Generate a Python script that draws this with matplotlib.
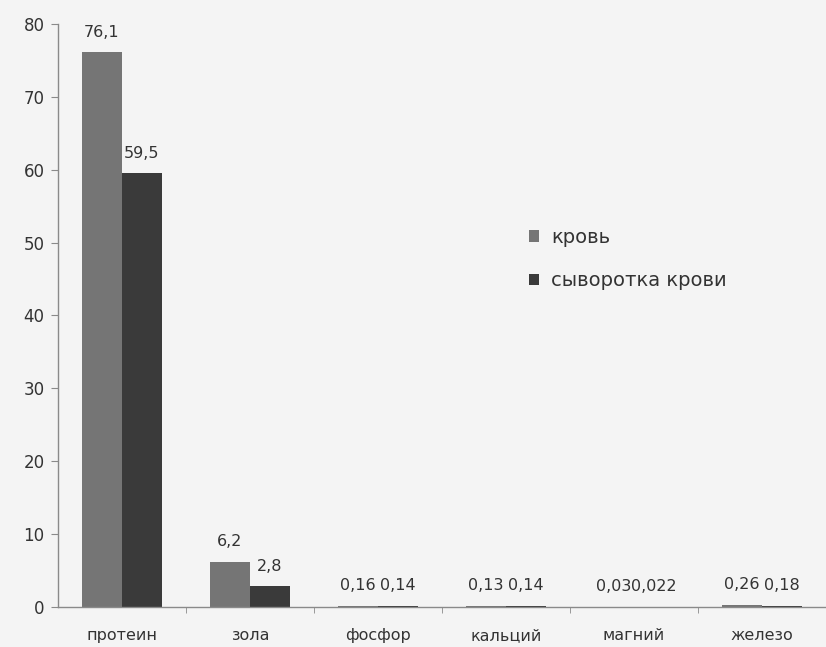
import numpy as np
import matplotlib.pyplot as plt

categories = ['протеин', 'зола', 'фосфор', 'кальций', 'магний', 'железо']
krov = [76.1, 6.2, 0.16, 0.13, 0.03, 0.26]
syvorotka = [59.5, 2.8, 0.14, 0.14, 0.022, 0.18]
krov_labels = ['76,1', '6,2', '0,16', '0,13', '0,03', '0,26']
syv_labels = ['59,5', '2,8', '0,14', '0,14', '0,022', '0,18']

plt.rcParams['font.family'] = ['DejaVu Sans']
fig = plt.figure(figsize=(8.26, 6.47), dpi=100, facecolor='#f4f4f4')
ax = fig.add_axes([0.070, 0.062, 0.930, 0.901])
ax.set_facecolor('#f4f4f4')

x = np.arange(len(categories))
w = 0.31
b1 = ax.bar(x - w / 2, krov, w, color='#757575', label='кровь')
b2 = ax.bar(x + w / 2, syvorotka, w, color='#3a3a3a', label='сыворотка крови')

# value labels above each bar
for bars, labs in ((b1, krov_labels), (b2, syv_labels)):
    for r, t in zip(bars, labs):
        ax.annotate(t, (r.get_x() + r.get_width() / 2, r.get_height()),
                    xytext=(0, 9), textcoords='offset points',
                    ha='center', va='bottom', fontsize=11.5, color='#333333')

ax.set_xlim(-0.5, len(categories) - 0.5)
ax.set_ylim(0, 80)
ax.set_yticks(range(0, 81, 10))
ax.set_xticks(x)
ax.set_xticklabels(categories)
ax.set_xticks(np.arange(0.5, len(categories) - 0.5, 1), minor=True)
ax.tick_params(axis='x', which='major', length=0, pad=15, labelsize=11.5, labelcolor='#333333')
ax.tick_params(axis='x', which='minor', length=4, direction='out', color='#8a8a8a')
ax.tick_params(axis='y', length=5, direction='out', color='#8a8a8a', labelsize=12,
               labelcolor='#333333', pad=4.5)

for s in ('top', 'right'):
    ax.spines[s].set_visible(False)
for s in ('left', 'bottom'):
    ax.spines[s].set_color('#8a8a8a')
    ax.spines[s].set_linewidth(1.0)

ax.legend(loc='upper left', bbox_to_anchor=(0.59, 0.68), frameon=False,
          fontsize=14, handlelength=0.55, handleheight=0.55, handletextpad=0.6,
          labelspacing=1.25, labelcolor='#333333')

fig.savefig('out.png', dpi=100, facecolor=fig.get_facecolor())
